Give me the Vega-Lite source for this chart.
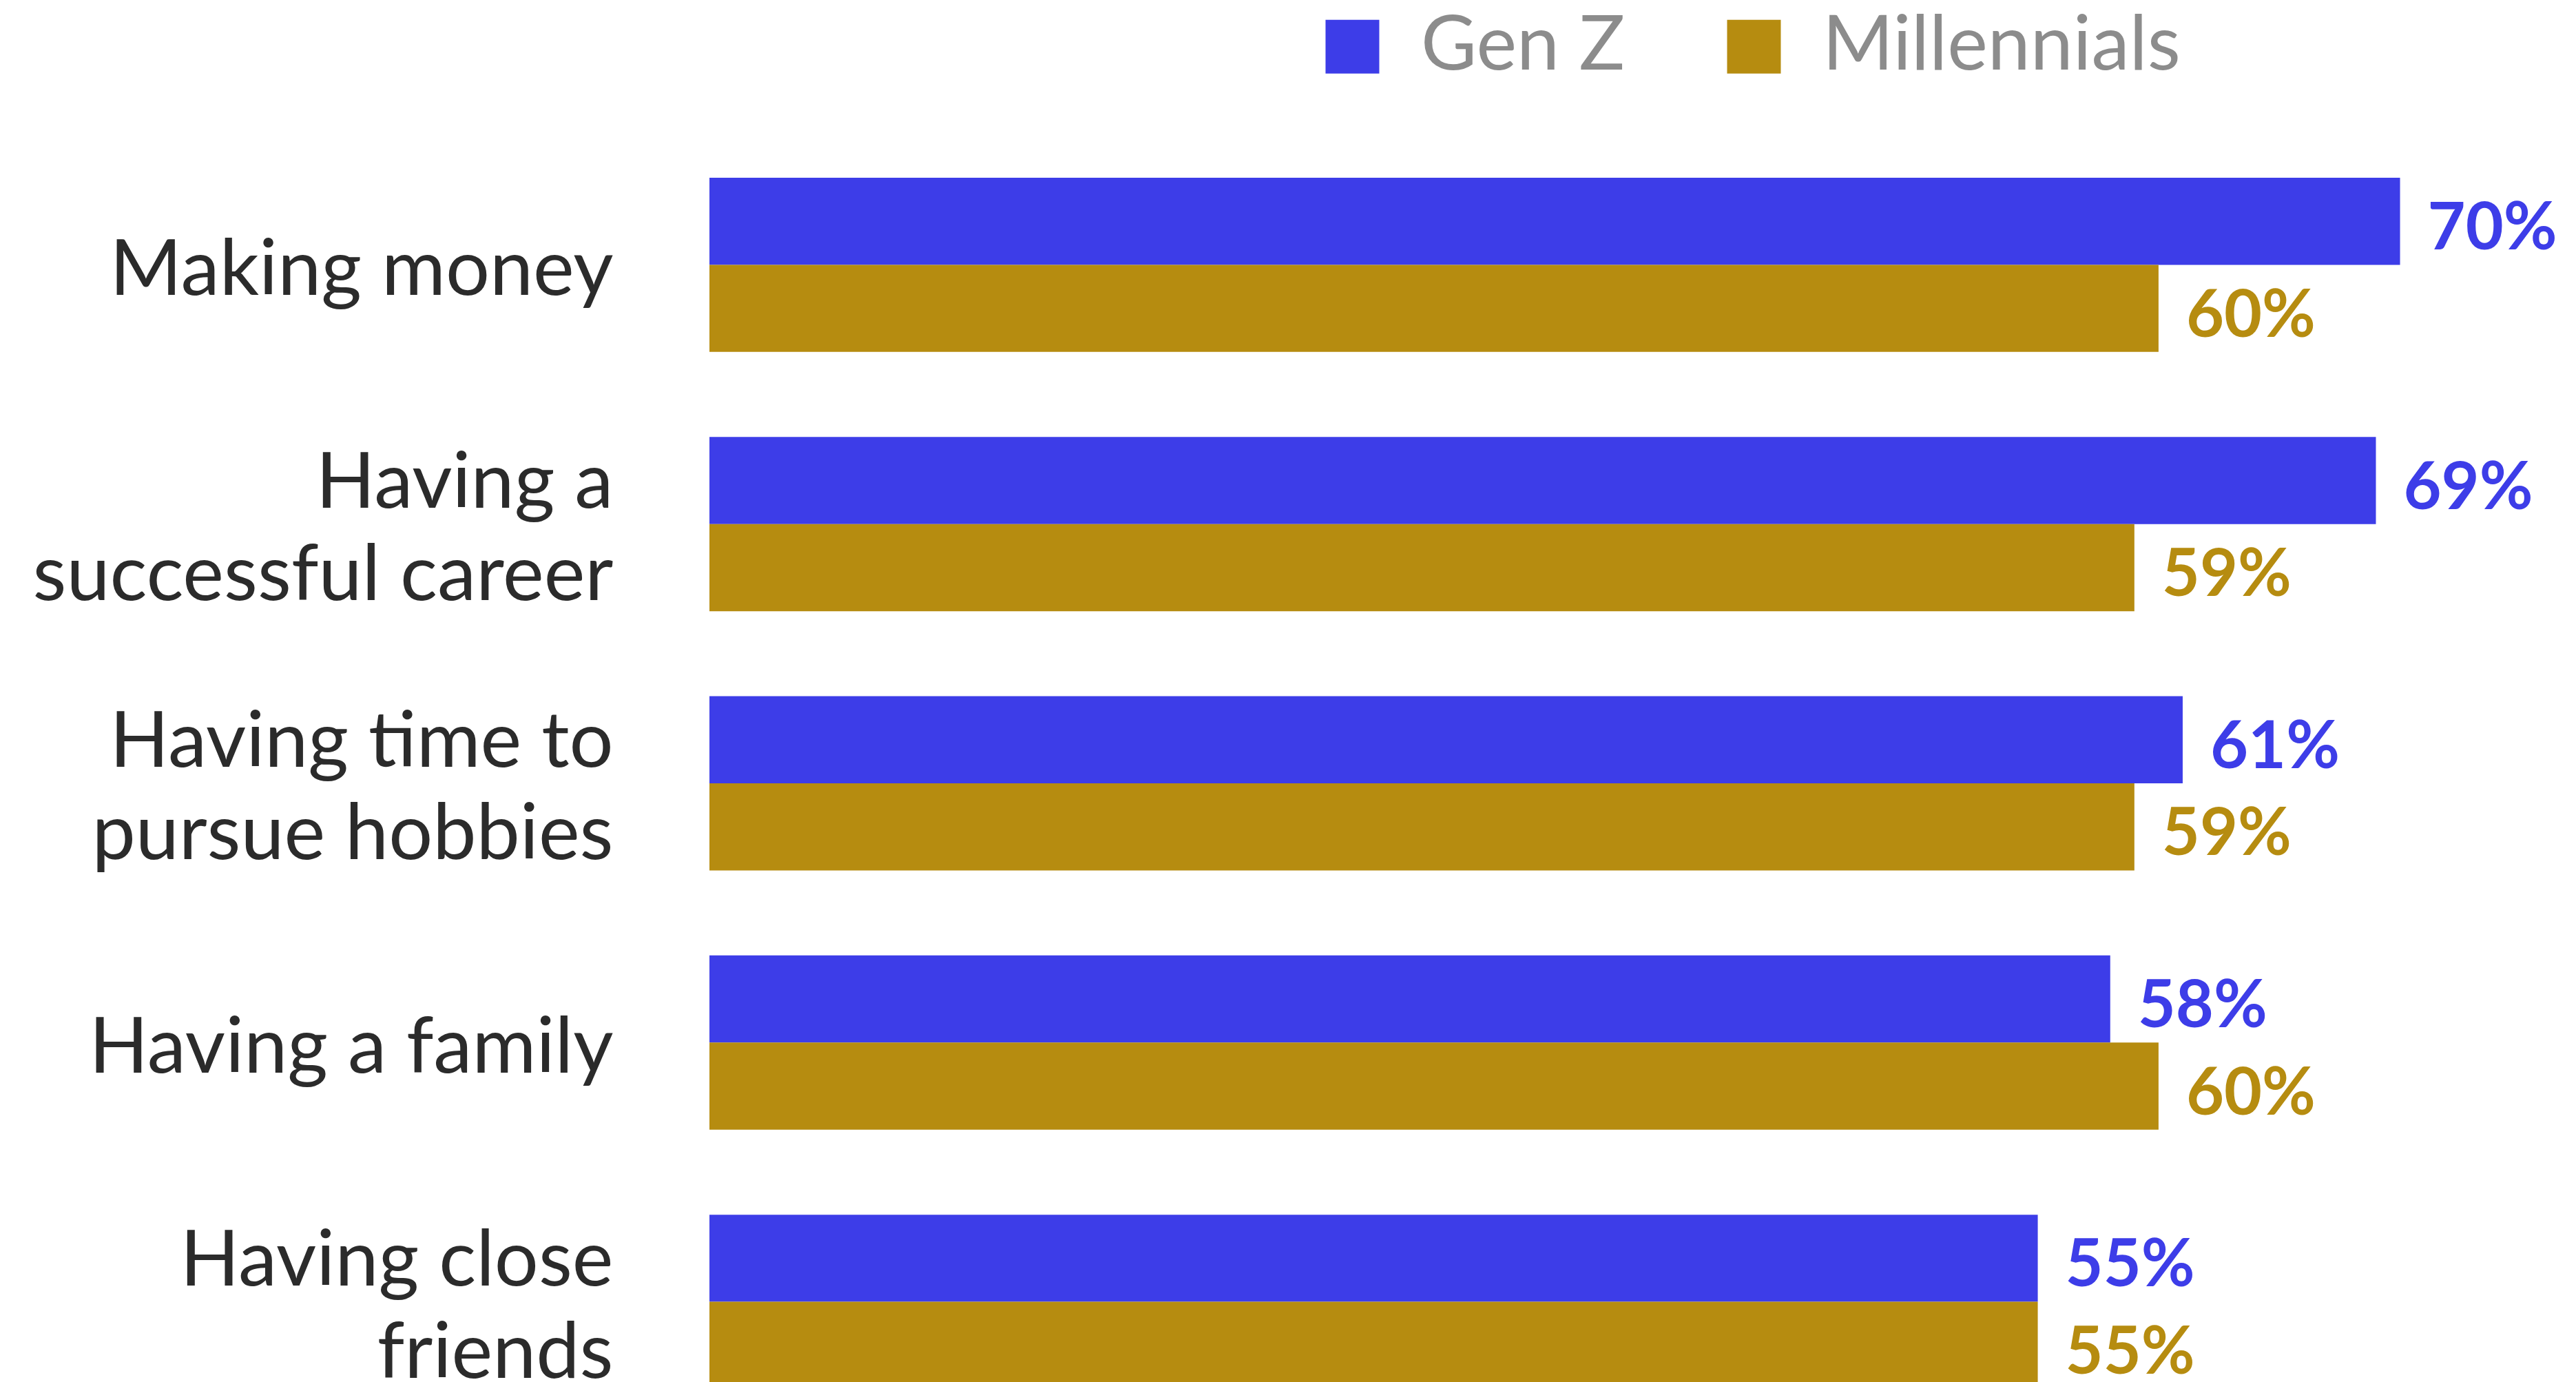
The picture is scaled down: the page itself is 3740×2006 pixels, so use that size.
{
  "$schema": "https://vega.github.io/schema/vega-lite/v6.json",
  "width": 2700,
  "height": 1748,
  "autosize": {"type": "none"},
  "padding": {"left": 1030, "top": 258, "right": 10, "bottom": 0},
  "background": "#ffffff",
  "config": {"view": {"stroke": null}, "font": "Lato"},
  "data": {
    "values": [
      {"category": "Making money", "series": "Gen Z", "value": 0.70},
      {"category": "Making money", "series": "Millennials", "value": 0.60},
      {"category": "Having a successful career", "series": "Gen Z", "value": 0.69},
      {"category": "Having a successful career", "series": "Millennials", "value": 0.59},
      {"category": "Having time to pursue hobbies", "series": "Gen Z", "value": 0.61},
      {"category": "Having time to pursue hobbies", "series": "Millennials", "value": 0.59},
      {"category": "Having a family", "series": "Gen Z", "value": 0.58},
      {"category": "Having a family", "series": "Millennials", "value": 0.60},
      {"category": "Having close friends", "series": "Gen Z", "value": 0.55},
      {"category": "Having close friends", "series": "Millennials", "value": 0.55}
    ]
  },
  "encoding": {
    "y": {
      "field": "category",
      "type": "nominal",
      "sort": ["Making money", "Having a successful career", "Having time to pursue hobbies", "Having a family", "Having close friends"],
      "scale": {"paddingInner": 0.328, "paddingOuter": 0, "range": [0, 1758]},
      "axis": {
        "title": null,
        "domain": false,
        "ticks": false,
        "labelPadding": 140,
        "labelFontSize": 113,
        "labelFont": "Lato",
        "labelColor": "#2b2b2b",
        "labelLimit": 2000,
        "labelLineHeight": 134,
        "labelOffset": {"condition": {"test": "indexof(['Having a successful career', 'Having time to pursue hobbies', 'Having close friends'], datum.value) >= 0", "value": -58}, "value": 10},
        "labelExpr": "datum.label == 'Having a successful career' ? ['Having a', 'successful career'] : datum.label == 'Having time to pursue hobbies' ? ['Having time to', 'pursue hobbies'] : datum.label == 'Having close friends' ? ['Having close', 'friends'] : datum.label"
      }
    },
    "yOffset": {"field": "series", "type": "nominal", "sort": ["Gen Z", "Millennials"], "scale": {"paddingInner": 0, "paddingOuter": 0}},
    "x": {
      "field": "value",
      "type": "quantitative",
      "scale": {"domain": [0, 0.77], "nice": false, "zero": true},
      "axis": null
    },
    "color": {
      "field": "series",
      "type": "nominal",
      "scale": {"domain": ["Gen Z", "Millennials"], "range": ["#3d3de8", "#b68c10"]},
      "legend": {
        "title": null,
        "orient": "none",
        "direction": "horizontal",
        "legendX": 878,
        "legendY": -246,
        "symbolType": "square",
        "symbolSize": 6084,
        "symbolStrokeWidth": 0,
        "symbolOpacity": 1,
        "labelFontSize": 111,
        "labelFont": "Lato",
        "labelColor": "#8c8c8c",
        "labelOffset": 44,
        "columnPadding": 131,
        "labelLimit": 1000
      }
    }
  },
  "layer": [
    {"mark": {"type": "bar", "cornerRadius": 0}},
    {
      "mark": {"type": "text", "align": "left", "baseline": "middle", "dx": 40, "dy": 12, "fontSize": 95, "fontWeight": "bold", "font": "Lato"},
      "encoding": {"text": {"field": "value", "type": "quantitative", "format": ".0%"}}
    }
  ]
}
